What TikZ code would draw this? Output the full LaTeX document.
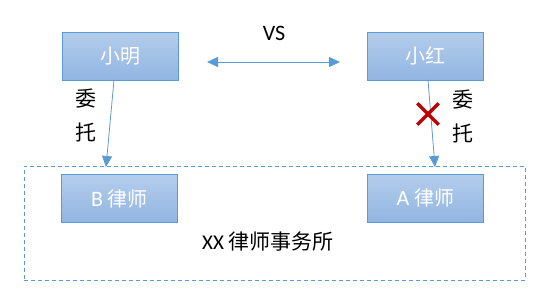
\documentclass[tikz,border=0pt]{standalone}
\usepackage{fontspec}
\setmainfont{Carlito}
\newfontfamily\cjk{Noto Sans CJK SC}
\usetikzlibrary{arrows.meta}
\definecolor{edge}{HTML}{5B9BD5}
\definecolor{topc}{HTML}{B4CDEB}
\definecolor{botc}{HTML}{91B5E2}
\definecolor{xred}{HTML}{C00000}
\tikzset{
  person/.style={draw=edge, line width=1pt, top color=topc, bottom color=botc,
    minimum width=116pt, minimum height=48pt, inner sep=0pt, text=white, font=\fontsize{20}{22}\selectfont},
  conn/.style={draw=edge, line width=0.8pt, -{Triangle[width=10pt,length=11pt]}},
  lbl/.style={font=\fontsize{21}{34}\selectfont\cjk, align=center, text=black}
}
\begin{document}
\begin{tikzpicture}[x=1pt,y=-1pt]
\useasboundingbox (0,0) rectangle (556,298);
\node[draw=edge, dashed, dash pattern=on 4pt off 3pt, line width=0.9pt, minimum width=501pt, minimum height=114pt, inner sep=0pt] (firm) at (274.5,223) {};
\node[person] (xm) at (120.5,56) {\cjk 小明};
\node[person] (xh) at (425.5,56) {\cjk 小红};
\node[person] (b) at (119.5,198.5) {\fontsize{22}{22}\selectfont B {\fontsize{20}{22}\selectfont\cjk 律师}};
\node[person] (a) at (425.5,198) {\fontsize{22}{22}\selectfont A {\fontsize{20}{22}\selectfont\cjk 律师}};
\node[font=\fontsize{21}{24}\selectfont] (firmlbl) at (268,242) {XX {\cjk 律师事务所}};
\node[font=\fontsize{22}{24}\selectfont] (vs) at (274,33) {VS};
\coordinate (vsl) at (207,62);
\coordinate (vsr) at (340,62);
\draw[draw=edge, line width=0.8pt, {Triangle[width=10pt,length=11pt]}-{Triangle[width=10pt,length=11pt]}] (vsl) -- (vsr);
\coordinate (xmo) at (114,80);
\coordinate (bin) at (106,167);
\draw[conn] (xmo) -- (bin);
\coordinate (xho) at (428,80);
\coordinate (ain) at (435,167);
\draw[conn] (xho) -- (ain);
\node[lbl] (wl) at (86,115) {委\\托};
\node[lbl] (wr) at (463,116) {委\\托};
\node[inner sep=0pt, minimum size=21pt] (cross) at (428,114) {};
\draw[xred, line width=3.2pt] (cross.north west) -- (cross.south east) (cross.north east) -- (cross.south west);
\end{tikzpicture}
\end{document}
